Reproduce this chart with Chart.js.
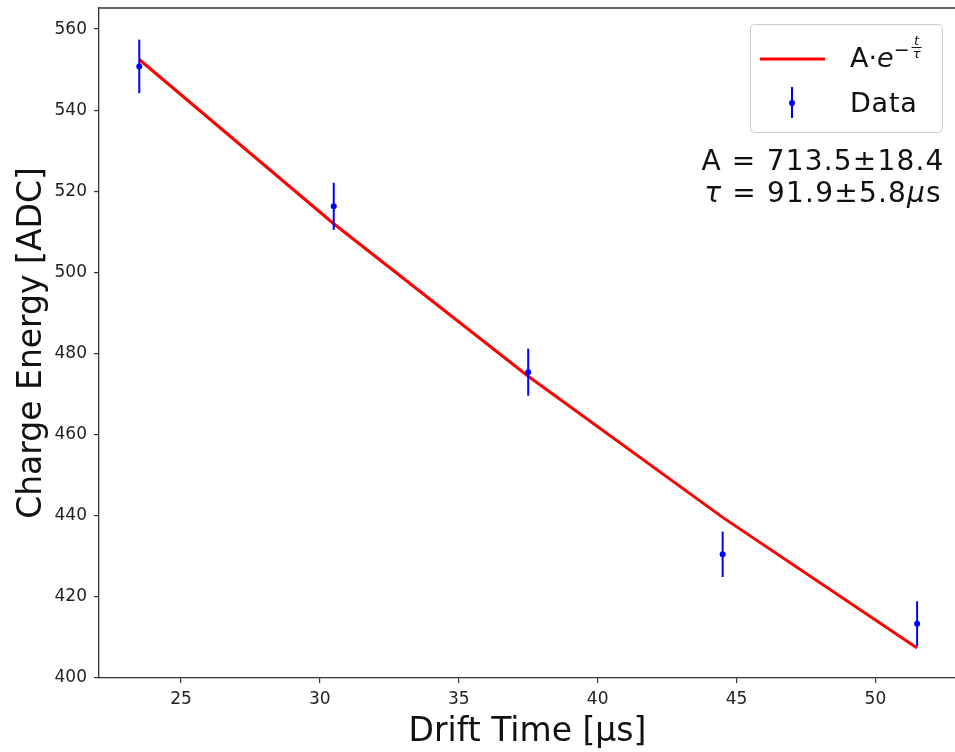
<!DOCTYPE html>
<html lang="en">
<head>
<meta charset="UTF-8">
<title>Charge Energy vs Drift Time</title>
<script src="https://cdn.jsdelivr.net/npm/chart.js"></script>
<style>
  html, body { margin: 0; padding: 0; background: #fff; overflow: hidden; }
  #wrap { width: 960px; height: 752px; }
</style>
</head>
<body>
<div id="wrap"><canvas id="fitChart"></canvas></div>
<script>
// drift time bins [us]
const driftTimes = [23.5, 30.5, 37.5, 44.5, 51.5];
// measured charge energy [ADC] and its error
const chargeEnergy = [550.8, 516.3, 475.4, 430.5, 413.4];
const chargeErr = [6.6, 5.8, 5.8, 5.6, 5.5];
// exponential fit read at each drift time
const fitValues = [552.5, 512.0, 474.4, 439.6, 407.4];
const xTicks = [25, 30, 35, 40, 45, 50];
const yTicks = [400, 420, 440, 460, 480, 500, 520, 540, 560];
const fitA = '713.5±18.4';
const fitTau = '91.9±5.8';

const FONT = '"DejaVu Sans", Arial, sans-serif';

// vertical error bars, drawn under the data dots
const errorBars = {
  id: 'errorBars',
  beforeDatasetDraw(chart, args) {
    if (args.index !== 1) return;
    const ctx = chart.ctx;
    const xs = chart.scales.x, ys = chart.scales.y;
    ctx.save();
    ctx.strokeStyle = '#0000ff';
    ctx.lineWidth = 2;
    driftTimes.forEach((t, i) => {
      const px = xs.getPixelForValue(t);
      ctx.beginPath();
      ctx.moveTo(px, ys.getPixelForValue(chargeEnergy[i] - chargeErr[i]));
      ctx.lineTo(px, ys.getPixelForValue(chargeEnergy[i] + chargeErr[i]));
      ctx.stroke();
    });
    ctx.restore();
  }
};

// top and right spines
const frame = {
  id: 'frame',
  afterDraw(chart) {
    const a = chart.chartArea, ctx = chart.ctx;
    ctx.save();
    ctx.strokeStyle = '#333';
    ctx.lineWidth = 1.3;
    ctx.beginPath();
    ctx.moveTo(a.left, a.top);
    ctx.lineTo(a.right, a.top);
    ctx.lineTo(a.right, a.bottom);
    ctx.stroke();
    ctx.restore();
  }
};

// legend box plus fit result text
const fitLegend = {
  id: 'fitLegend',
  afterDraw(chart) {
    const ctx = chart.ctx;
    const a = chart.chartArea;
    const bx = a.right - 206, by = a.top + 16, bw = 192, bh = 108;
    ctx.save();
    ctx.fillStyle = 'rgba(255,255,255,0.8)';
    ctx.strokeStyle = '#cccccc';
    ctx.lineWidth = 1;
    ctx.beginPath();
    ctx.roundRect(bx + 0.5, by + 0.5, bw, bh, 4);
    ctx.fill();
    ctx.stroke();

    // fit entry
    ctx.strokeStyle = '#ff0000';
    ctx.lineWidth = 3;
    ctx.beginPath();
    ctx.moveTo(bx + 10, by + 35);
    ctx.lineTo(bx + 75, by + 35);
    ctx.stroke();

    ctx.fillStyle = '#111';
    ctx.textBaseline = 'alphabetic';
    ctx.textAlign = 'left';
    let tx = bx + 100, base = by + 43;
    ctx.font = '27px ' + FONT;
    ctx.fillText('A·', tx, base);
    tx += ctx.measureText('A·').width;
    ctx.font = 'italic 27px ' + FONT;
    ctx.fillText('e', tx, base);
    tx += ctx.measureText('e').width;
    ctx.font = '19px ' + FONT;
    ctx.fillText('−', tx, base - 11);
    tx += ctx.measureText('−').width + 2;
    ctx.font = 'italic 13px ' + FONT;
    ctx.textAlign = 'center';
    ctx.fillText('t', tx + 5, base - 22);
    ctx.fillText('τ', tx + 5, base - 9);
    ctx.lineWidth = 1;
    ctx.strokeStyle = '#111';
    ctx.beginPath();
    ctx.moveTo(tx, base - 19.5);
    ctx.lineTo(tx + 10, base - 19.5);
    ctx.stroke();

    // data entry
    const mx = bx + 42, my = by + 79;
    ctx.strokeStyle = '#0000ff';
    ctx.lineWidth = 2;
    ctx.beginPath();
    ctx.moveTo(mx, my - 16);
    ctx.lineTo(mx, my + 15);
    ctx.stroke();
    ctx.fillStyle = '#0000ff';
    ctx.beginPath();
    ctx.arc(mx, my, 3, 0, Math.PI * 2);
    ctx.fill();
    ctx.fillStyle = '#111';
    ctx.textAlign = 'left';
    ctx.letterSpacing = '0.8px';
    ctx.font = '27px ' + FONT;
    ctx.fillText('Data', bx + 100, by + 88);

    // fit parameters
    const cx = a.right - 133;
    ctx.letterSpacing = '1.2px';
    ctx.font = '28px ' + FONT;
    const line1 = 'A = ' + fitA;
    ctx.textAlign = 'center';
    ctx.fillText(line1, cx, a.top + 162);
    // second line: italic tau and mu
    const p1 = 'τ', p2 = ' = ' + fitTau, p3 = 'μ', p4 = 's';
    ctx.font = 'italic 28px ' + FONT;
    const w1 = ctx.measureText(p1).width, w3 = ctx.measureText(p3).width;
    ctx.font = '28px ' + FONT;
    const w2 = ctx.measureText(p2).width, w4 = ctx.measureText(p4).width;
    let lx = cx - (w1 + w2 + w3 + w4) / 2;
    const lb = a.top + 194;
    ctx.textAlign = 'left';
    ctx.font = 'italic 28px ' + FONT;
    ctx.fillText(p1, lx, lb); lx += w1;
    ctx.font = '28px ' + FONT;
    ctx.fillText(p2, lx, lb); lx += w2;
    ctx.font = 'italic 28px ' + FONT;
    ctx.fillText(p3, lx, lb); lx += w3;
    ctx.font = '28px ' + FONT;
    ctx.fillText(p4, lx, lb);
    ctx.restore();
  }
};

new Chart(document.getElementById('fitChart'), {
  type: 'scatter',
  data: {
    datasets: [
      {
        label: 'A·e^(-t/τ)',
        data: driftTimes.map((t, i) => ({ x: t, y: fitValues[i] })),
        showLine: true,
        borderColor: '#ff0000',
        borderWidth: 3,
        pointRadius: 0,
        tension: 0,
        order: 2
      },
      {
        label: 'Data',
        data: driftTimes.map((t, i) => ({ x: t, y: chargeEnergy[i] })),
        backgroundColor: '#0000ff',
        borderColor: '#0000ff',
        borderWidth: 0,
        pointRadius: 3,
        order: 1
      }
    ]
  },
  options: {
    responsive: true,
    maintainAspectRatio: false,
    animation: false,
    layout: { padding: { top: 8, right: 2, left: 0, bottom: 0 } },
    plugins: { legend: { display: false }, tooltip: { enabled: false } },
    scales: {
      x: {
        type: 'linear',
        min: 22.05,
        max: 52.9,
        afterFit(s) { s.height = 74; s.paddingLeft = 0; s.paddingRight = 0; },
        afterBuildTicks(s) { s.ticks = xTicks.map(v => ({ value: v })); },
        grid: { drawOnChartArea: false, tickLength: 5, color: '#333', lineWidth: 1.2 },
        border: { color: '#333', width: 1.3 },
        ticks: { font: { family: FONT, size: 17 }, color: '#222', padding: 6, maxRotation: 0 },
        title: { display: true, text: 'Drift Time [μs]', font: { family: FONT, size: 33 }, color: '#111', padding: { top: 0, bottom: 0 } }
      },
      y: {
        type: 'linear',
        min: 400,
        max: 565.2,
        afterFit(s) { s.width = 99; s.paddingTop = 0; s.paddingBottom = 0; },
        afterBuildTicks(s) { s.ticks = yTicks.map(v => ({ value: v })); },
        grid: { drawOnChartArea: false, tickLength: 5, color: '#333', lineWidth: 1.2 },
        border: { color: '#333', width: 1.3 },
        ticks: { font: { family: FONT, size: 17 }, color: '#222', padding: 7 },
        title: { display: true, text: 'Charge Energy [ADC]', font: { family: FONT, size: 33 }, color: '#111', padding: { top: 13, bottom: 0 } }
      }
    }
  },
  plugins: [errorBars, frame, fitLegend]
});
</script>
</body>
</html>
